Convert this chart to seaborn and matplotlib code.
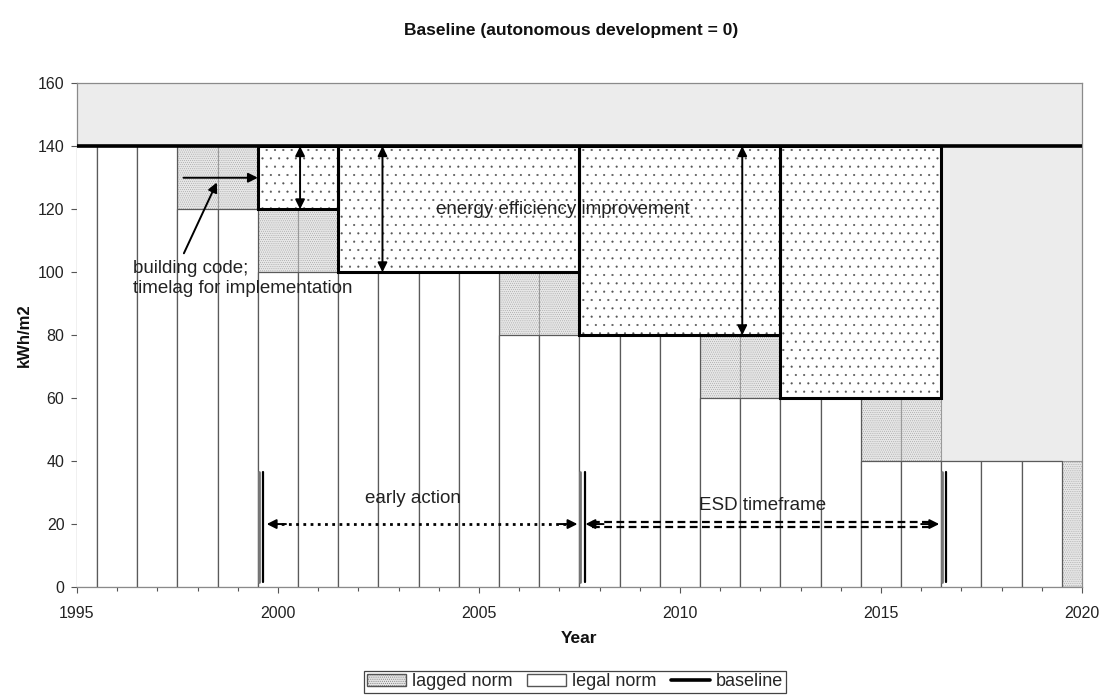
import matplotlib
matplotlib.use("Agg")
import matplotlib.pyplot as plt
import seaborn as sns
from matplotlib.patches import Patch, Rectangle
from matplotlib.lines import Line2D

# ---------------- data ----------------
years = [1995, 1996, 1997, 1998, 1999, 2000, 2001, 2002, 2003, 2004, 2005, 2006, 2007,
         2008, 2009, 2010, 2011, 2012, 2013, 2014, 2015, 2016, 2017, 2018, 2019, 2020]
legal_norm = [140, 140, 140, 120, 120, 100, 100, 100, 100, 100, 100, 80, 80,
              80, 80, 80, 60, 60, 60, 60, 40, 40, 40, 40, 40, 0]
lagged_norm = [140, 140, 140, 140, 140, 120, 120, 100, 100, 100, 100, 100, 100,
               80, 80, 80, 80, 80, 60, 60, 60, 60, 40, 40, 40, 40]
baseline = [140, 140, 140, 140, 140, 140, 140, 140, 140, 140, 140, 140, 140,
            140, 140, 140, 140, 140, 140, 140, 140, 140, 140, 140, 140, 140]
improvement_first_year = 2000
improvement_last_year = 2016
x_ticks = [1995, 2000, 2005, 2010, 2015, 2020]
y_ticks = [0, 20, 40, 60, 80, 100, 120, 140, 160]

title = "Baseline (autonomous development = 0)"

# ---------------- style ----------------
sns.set_theme(style="white")
plt.rcParams['font.family'] = ['Liberation Sans', 'DejaVu Sans']
plt.rcParams['hatch.linewidth'] = 0.3

fig = plt.figure(figsize=(11.01, 7.0), dpi=100)
ax = fig.add_axes([0.0699, 0.1614, 0.9128, 0.7196])
ax.set_facecolor('#ececec')

# lagged norm bars (behind)
sns.barplot(x=years, y=lagged_norm, native_scale=True, width=1, saturation=1,
            color='#e6e6e6', edgecolor='#9a9a9a', linewidth=0.8, hatch='........',
            errorbar=None, ax=ax, zorder=2)
# legal norm bars (front)
sns.barplot(x=years, y=legal_norm, native_scale=True, width=1, saturation=1,
            color='white', edgecolor='#5a5a5a', linewidth=0.9,
            errorbar=None, ax=ax, zorder=3)

# energy efficiency improvement region
imp_x, imp_bottom, imp_h = [], [], []
for y, lg, b in zip(years, lagged_norm, baseline):
    if improvement_first_year <= y <= improvement_last_year:
        imp_x.append(y)
        imp_bottom.append(lg)
        imp_h.append(b - lg)
ax.bar(imp_x, imp_h, bottom=imp_bottom, width=1.0, color='white',
       edgecolor='#555555', linewidth=0, hatch='..', zorder=4)

# block outlines (groups of constant lagged norm)
blocks = []
for y, lg, h in zip(imp_x, imp_bottom, imp_h):
    if blocks and blocks[-1][2] == lg:
        blocks[-1][1] = y
    else:
        blocks.append([y, y, lg, lg + h])
for y0, y1, lg, top in blocks:
    ax.add_patch(Rectangle((y0 - 0.5, lg), (y1 - y0 + 1), top - lg, fill=False,
                           edgecolor='black', linewidth=2.2, zorder=6))

# baseline
sns.lineplot(x=years, y=baseline, color='black', linewidth=2.6, ax=ax, zorder=7)

# ---------------- annotations ----------------
fs_ann = 13.5
def head(x_from, x_to, y_from, y_to):
    ax.annotate('', xy=(x_to, y_to), xytext=(x_from, y_from),
                arrowprops=dict(arrowstyle='-|>', color='black', lw=1.4,
                                mutation_scale=14, shrinkA=0, shrinkB=0), zorder=9)

def darrow(x, y0, y1):
    ax.annotate('', xy=(x, y1), xytext=(x, y0),
                arrowprops=dict(arrowstyle='<|-|>', color='black', lw=1.4,
                                mutation_scale=14, shrinkA=0, shrinkB=0), zorder=9)

lag_of = dict(zip(years, lagged_norm))
base_of = dict(zip(years, baseline))
darrow(2000.55, base_of[2000], lag_of[2000])
darrow(2002.6, base_of[2002], lag_of[2002])
darrow(2011.55, base_of[2011], lag_of[2011])

# building code arrows
head(1997.65, 1999.5, 130, 130)
head(1997.66, 1998.48, 106, 128.5)
ax.text(1996.39, 98, "building code;\ntimelag for implementation", ha='left', va='center',
        fontsize=fs_ann, color='#222222', linespacing=1.2, zorder=10)
ax.text(2007.08, 120, "energy efficiency improvement", ha='center', va='center',
        fontsize=fs_ann, color='#222222', zorder=5)

# period markers
for b in [1999.5, 2007.5, 2016.5]:
    ax.plot([b + 0.02, b + 0.02], [1.5, 36.5], color='#777777', lw=2.0, zorder=8)
    ax.plot([b + 0.13, b + 0.13], [1.5, 36.5], color='black', lw=1.6, zorder=8)

# early action dotted double arrow
ax.plot([1999.9, 2007.3], [20, 20], color='black', lw=2.0, linestyle=(0, (1, 1.6)), zorder=8)
head(2000.2, 1999.72, 20, 20)
head(2007.0, 2007.45, 20, 20)
ax.text(2003.35, 28, "early action", ha='center', va='center', fontsize=fs_ann,
        color='#222222', zorder=10)

# ESD timeframe double dashed arrow
for dy in (-0.8, 0.8):
    ax.plot([2007.8, 2016.3], [20 + dy, 20 + dy], color='black', lw=1.6,
            linestyle=(0, (3.5, 2)), zorder=8)
head(2008.1, 2007.65, 20, 20)
head(2016.0, 2016.45, 20, 20)
ax.text(2012.05, 26, "ESD timeframe", ha='center', va='center', fontsize=fs_ann,
        color='#222222', zorder=10)

# ---------------- axes ----------------
ax.set_xlim(1995, 2020)
ax.set_ylim(0, 160)
ax.set_xticks(x_ticks)
ax.set_xticks(years, minor=True)
ax.set_xticklabels([str(t) for t in x_ticks], fontsize=11.5)
ax.set_yticks(y_ticks)
ax.set_yticklabels([str(t) for t in y_ticks], fontsize=11.5)
ax.tick_params(axis='both', which='major', direction='out', length=4, width=0.8,
               color='#555555', labelcolor='#222222', pad=5)
ax.tick_params(axis='x', which='minor', direction='out', length=3, width=0.8,
               color='#555555', bottom=True)
ax.tick_params(axis='x', which='major', bottom=True, pad=10)
ax.tick_params(axis='y', which='major', left=True)
for s in ax.spines.values():
    s.set_color('#8a8a8a')
    s.set_linewidth(0.9)
ax.set_xlabel("Year", fontsize=12.5, fontweight='bold', labelpad=7, color='#111111')
ax.set_ylabel("kWh/m2", fontsize=12, fontweight='bold', labelpad=4, color='#111111')

fig.text(0.5186, 0.957, title, ha='center', va='center', fontsize=12.5,
         fontweight='bold', color='#111111')

handles = [Patch(facecolor='#e6e6e6', edgecolor='#555555', hatch='........', label='lagged norm'),
           Patch(facecolor='white', edgecolor='#555555', label='legal norm'),
           Line2D([], [], color='black', lw=2.6, label='baseline')]
leg = fig.legend(handles=handles, loc='center', bbox_to_anchor=(0.522, 0.026), ncol=3,
                 fontsize=13, frameon=True, fancybox=False, edgecolor='#444444',
                 handlelength=2.2, handleheight=0.6, handletextpad=0.3,
                 columnspacing=0.8, borderpad=0.15, framealpha=1)
leg.get_frame().set_linewidth(0.9)

fig.savefig("out.png", dpi=100)
